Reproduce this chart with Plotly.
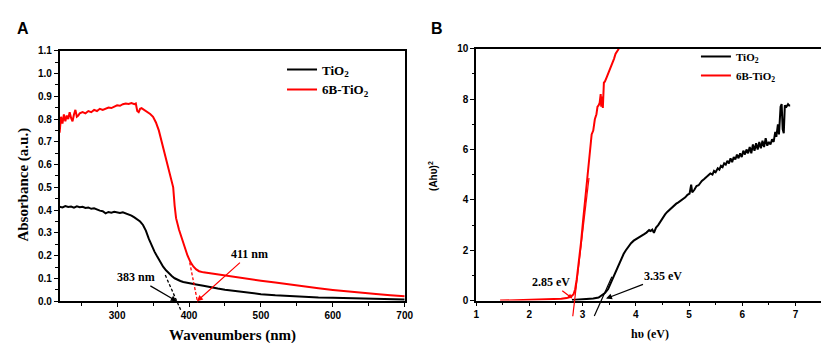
import plotly.graph_objects as go

# ---------------- Panel A data ----------------
wl_tio2 = [220, 224, 228, 232, 236, 240, 244, 248, 252, 256, 260, 264, 268, 272, 276, 280, 284, 288, 292, 296,
           300, 304, 308, 312, 316, 320, 324, 328, 332, 336, 340, 344, 348, 352, 356, 360, 364, 368, 372, 376,
           380, 384, 388, 392, 396, 400, 410, 420, 430, 440, 450, 460, 470, 480, 490, 500, 520, 540, 560, 580,
           600, 620, 640, 660, 680, 700]
abs_tio2 = [0.415, 0.412, 0.418, 0.414, 0.416, 0.411, 0.417, 0.413, 0.415, 0.410, 0.412, 0.406, 0.408, 0.402,
            0.398, 0.395, 0.386, 0.392, 0.389, 0.393, 0.390, 0.388, 0.391, 0.386, 0.383, 0.376, 0.368, 0.360,
            0.350, 0.335, 0.310, 0.275, 0.245, 0.218, 0.195, 0.172, 0.152, 0.136, 0.122, 0.111, 0.101, 0.094,
            0.089, 0.085, 0.082, 0.079, 0.074, 0.068, 0.061, 0.056, 0.051, 0.047, 0.043, 0.038, 0.034, 0.031,
            0.026, 0.022, 0.019, 0.017, 0.016, 0.014, 0.012, 0.011, 0.009, 0.008]

wl_6b = [220, 221, 222, 224, 226, 228, 230, 232, 234, 236, 238, 240, 242, 244, 246, 248, 252, 256, 260, 264,
         268, 272, 276, 280, 284, 288, 292, 296, 300, 304, 308, 312, 316, 320, 324, 326, 328, 330, 332, 334,
         338, 342, 346, 350, 354, 358, 362, 366, 370, 374, 378, 380, 382, 386, 390, 394, 398, 402, 406, 410,
         414, 420, 430, 440, 460, 480, 500, 520, 540, 560, 580, 600, 620, 640, 660, 680, 700]
abs_6b = [0.74, 0.79, 0.81, 0.78, 0.82, 0.79, 0.815, 0.80, 0.83, 0.805, 0.79, 0.82, 0.84, 0.81, 0.815, 0.825,
          0.83, 0.825, 0.835, 0.83, 0.84, 0.835, 0.845, 0.84, 0.845, 0.85, 0.848, 0.855, 0.86, 0.858, 0.865,
          0.868, 0.866, 0.87, 0.865, 0.868, 0.835, 0.83, 0.845, 0.848, 0.84, 0.833, 0.822, 0.81, 0.785, 0.75,
          0.70, 0.655, 0.61, 0.56, 0.50, 0.42, 0.365, 0.315, 0.275, 0.24, 0.20, 0.172, 0.153, 0.14, 0.132,
          0.127, 0.122, 0.118, 0.110, 0.100, 0.090, 0.082, 0.073, 0.064, 0.057, 0.050, 0.043, 0.037, 0.032,
          0.027, 0.022]

# ---------------- Panel B data ----------------
ev_6b = [1.45, 1.6, 1.8, 2.0, 2.2, 2.4, 2.5, 2.6, 2.7, 2.78, 2.83, 2.86, 2.89, 2.93, 2.97, 3.01, 3.05, 3.09,
         3.12, 3.15, 3.17, 3.20, 3.23, 3.26, 3.28, 3.30, 3.32, 3.34, 3.35, 3.37, 3.38, 3.40, 3.42, 3.45, 3.48,
         3.50, 3.53, 3.56, 3.59, 3.62, 3.65, 3.68]
ahv_6b = [0.0, 0.01, 0.01, 0.02, 0.03, 0.04, 0.05, 0.07, 0.10, 0.15, 0.25, 0.45, 0.85, 1.5, 2.3, 3.2, 4.0, 4.9,
          5.5, 5.95, 6.6, 6.75, 7.2, 7.4, 7.7, 7.75, 7.85, 8.2, 7.7, 8.1, 7.65, 8.65, 8.7, 8.85, 9.0, 9.1, 9.3,
          9.45, 9.6, 9.8, 9.9, 10.0]

ev_tio2 = [2.8, 2.9, 3.0, 3.1, 3.2, 3.3, 3.36, 3.42, 3.48, 3.53, 3.57, 3.62, 3.66, 3.72, 3.77, 3.81, 3.86, 3.91,
           3.96, 4.03, 4.09, 4.15, 4.20, 4.25, 4.28, 4.31, 4.34, 4.38, 4.42, 4.46, 4.50, 4.55, 4.59, 4.63, 4.67,
           4.71, 4.76, 4.80, 4.85, 4.89, 4.93, 4.97, 5.01, 5.04, 5.06, 5.10, 5.14, 5.18, 5.20, 5.24, 5.28, 5.32,
           5.36, 5.40, 5.44, 5.47, 5.50, 5.54, 5.57, 5.60, 5.63, 5.66, 5.69, 5.72, 5.75, 5.78, 5.81, 5.84, 5.87,
           5.90, 5.93, 5.96, 5.99, 6.02, 6.05, 6.08, 6.11, 6.14, 6.17, 6.20, 6.23, 6.26, 6.29, 6.32, 6.35, 6.38,
           6.41, 6.44, 6.47, 6.50, 6.53, 6.56, 6.59, 6.62, 6.64, 6.67, 6.69, 6.72, 6.74, 6.76, 6.78, 6.80, 6.83,
           6.86, 6.88, 6.90]
ahv_tio2 = [0.02, 0.03, 0.04, 0.06, 0.08, 0.12, 0.2, 0.3, 0.46, 0.7, 0.91, 1.15, 1.35, 1.67, 1.85, 1.99, 2.15,
            2.28, 2.38, 2.46, 2.55, 2.63, 2.70, 2.80, 2.76, 2.82, 2.69, 2.90, 3.00, 3.14, 3.28, 3.42, 3.52, 3.60,
            3.68, 3.78, 3.85, 3.90, 3.98, 4.03, 4.10, 4.20, 4.25, 4.60, 4.30, 4.40, 4.55, 4.58, 4.65, 4.75, 4.82,
            4.90, 4.95, 5.05, 5.00, 5.15, 5.10, 5.25, 5.20, 5.35, 5.30, 5.45, 5.40, 5.55, 5.45, 5.65, 5.50, 5.70,
            5.60, 5.80, 5.65, 5.85, 5.70, 5.95, 5.80, 6.00, 5.85, 6.10, 5.85, 6.20, 5.95, 6.25, 6.00, 6.30, 6.05,
            6.35, 6.10, 6.45, 6.15, 6.30, 6.20, 6.40, 6.30, 6.70, 6.50, 7.00, 6.60, 7.70, 7.80, 6.80, 6.65, 7.75,
            7.70, 7.80, 7.75, 7.75]

# Onset values (tangent intercepts)
onset_a_tio2 = 383
onset_a_6b = 411
onset_b_tio2 = 3.35
onset_b_6b = 2.85

# tangent segments (x, y endpoints)
tan_a_tio2 = ([367, 389], [0.115, -0.042])
tan_a_6b = ([401, 412], [0.17, -0.005])
tan_b_tio2 = ([3.22, 3.55], [-0.61, 0.95])
tan_b_6b = ([2.815, 3.12], [-0.62, 4.87])

# ---------------- layout geometry ----------------
W, H = 829, 343
XA_DOM = [49.3 / W, 399.5 / W]
YA_DOM = [1 - 297.7 / H, 1 - 38 / H]
XB_DOM = [472 / W, 823 / W]
YB_DOM = [1 - 297 / H, 1 - 36 / H]
XA_RANGE = [220, 700]
YA_RANGE = [0, 1.1]
XB_RANGE = [1, 7.5]
YB_RANGE = [0, 10]


def ypaper(v, rng, dom):
    return dom[0] + (v - rng[0]) / (rng[1] - rng[0]) * (dom[1] - dom[0])


RED = "#ff0000"
BLACK = "#000000"
SERIF = "Liberation Serif"
SANS = "Liberation Sans"

fig = go.Figure()
fig.add_trace(go.Scatter(x=wl_tio2, y=abs_tio2, mode="lines", name="TiO<sub>2</sub>",
                         line=dict(color=BLACK, width=2), xaxis="x", yaxis="y", legend="legend"))
fig.add_trace(go.Scatter(x=wl_6b, y=abs_6b, mode="lines", name="6B-TiO<sub>2</sub>",
                         line=dict(color=RED, width=2), xaxis="x", yaxis="y", legend="legend"))
fig.add_trace(go.Scatter(x=ev_tio2, y=ahv_tio2, mode="lines", name="TiO<sub>2</sub>",
                         line=dict(color=BLACK, width=2), xaxis="x2", yaxis="y2", legend="legend2"))
fig.add_trace(go.Scatter(x=ev_6b, y=ahv_6b, mode="lines", name="6B-TiO<sub>2</sub>",
                         line=dict(color=RED, width=2), xaxis="x2", yaxis="y2", legend="legend2"))

shapes = []
# panel A dashed tangents
for (xs, ys), col in [(tan_a_tio2, BLACK), (tan_a_6b, RED)]:
    shapes.append(dict(type="line", xref="x", yref="paper",
                       x0=xs[0], x1=xs[1],
                       y0=ypaper(ys[0], YA_RANGE, YA_DOM), y1=ypaper(ys[1], YA_RANGE, YA_DOM),
                       line=dict(color=col, width=1.3, dash="3px,2px")))
# panel B solid tangents
for (xs, ys), col in [(tan_b_tio2, BLACK), (tan_b_6b, RED)]:
    shapes.append(dict(type="line", xref="x2", yref="paper",
                       x0=xs[0], x1=xs[1],
                       y0=ypaper(ys[0], YB_RANGE, YB_DOM), y1=ypaper(ys[1], YB_RANGE, YB_DOM),
                       line=dict(color=col, width=1.2)))

ann_font = dict(family=SERIF, size=12, color=BLACK, weight="bold")


def paper_text(text, px, py, font, angle=0):
    return dict(text=text, x=px / W, y=1 - py / H, xref="paper", yref="paper", showarrow=False,
                xanchor="center", yanchor="middle", textangle=angle, font=font)


def arrow_label(text, tip, label, xr, yr, color, size=1.0):
    return dict(text=text, x=tip[0], y=tip[1], ax=label[0], ay=label[1], xref=xr, yref=yr,
                axref=xr, ayref=yr, showarrow=True, arrowhead=2, arrowsize=size, arrowwidth=1.2,
                arrowcolor=color, standoff=0, startstandoff=0, font=ann_font)


annotations = [
    paper_text("A", 12, 15, dict(family=SANS, size=16, color=BLACK, weight="bold")),
    paper_text("B", 432, 15, dict(family=SANS, size=16, color=BLACK, weight="bold")),
    paper_text("Absorbance (a.u.)", 13, 177, dict(family=SERIF, size=15, color=BLACK, weight="bold"), -90),
    paper_text("Wavenumbers (nm)", 225, 333, dict(family=SERIF, size=15, color=BLACK, weight="bold")),
    paper_text("(Ahυ)<sup>2</sup>", 428, 168, dict(family=SANS, size=10, color=BLACK, weight="bold"), -90),
    paper_text("hυ (eV)", 648, 332, dict(family=SERIF, size=12, color=BLACK, weight="bold")),
    arrow_label(f"{onset_a_tio2} nm", (onset_a_tio2, 0), (326, 0.105), "x", "y", BLACK),
    arrow_label(f"{onset_a_6b} nm", (onset_a_6b, 0), (484, 0.207), "x", "y", RED),
    arrow_label(f"{onset_b_6b} eV", (2.81, 0.08), (2.41, 0.73), "x2", "y2", RED, 0.8),
    arrow_label(f"{onset_b_tio2} eV", (3.44, 0.08), (4.52, 0.96), "x2", "y2", BLACK),
]

tickfont = dict(family=SANS, size=10, color=BLACK, weight="bold")
axis_common = dict(showline=True, linecolor=BLACK, linewidth=1.5, mirror=True, ticks="outside",
                   ticklen=4, tickwidth=1.2, tickcolor=BLACK, showgrid=False, zeroline=False,
                   tickfont=tickfont, fixedrange=True)

fig.update_layout(
    width=W, height=H,
    margin=dict(l=0, r=0, t=0, b=0),
    paper_bgcolor="white", plot_bgcolor="white",
    showlegend=True,
    xaxis=dict(domain=XA_DOM, range=XA_RANGE, anchor="y", tick0=0, dtick=100,
               minor=dict(dtick=50, tick0=0, ticks="outside", ticklen=2.5, tickcolor=BLACK, tickwidth=1),
               **axis_common),
    yaxis=dict(domain=YA_DOM, range=YA_RANGE, anchor="x", tick0=0, dtick=0.1, tickformat=".1f",
               minor=dict(dtick=0.05, tick0=0, ticks="outside", ticklen=2.5, tickcolor=BLACK, tickwidth=1),
               **axis_common),
    xaxis2=dict(domain=XB_DOM, range=XB_RANGE, anchor="y2", tick0=0, dtick=1,
                minor=dict(dtick=0.5, tick0=0, ticks="outside", ticklen=2.5, tickcolor=BLACK, tickwidth=1),
                **axis_common),
    yaxis2=dict(domain=YB_DOM, range=YB_RANGE, anchor="x2", tick0=0, dtick=2,
                minor=dict(dtick=1, tick0=0, ticks="outside", ticklen=2.5, tickcolor=BLACK, tickwidth=1),
                **axis_common),
    legend=dict(x=275 / W, y=1 - 42 / H, xanchor="left", yanchor="top", bgcolor="rgba(0,0,0,0)",
                font=dict(family=SERIF, size=13, color=BLACK, weight="bold"), tracegroupgap=0),
    legend2=dict(x=695 / W, y=1 - 29 / H, xanchor="left", yanchor="top", bgcolor="rgba(0,0,0,0)",
                 font=dict(family=SERIF, size=11, color=BLACK, weight="bold"), tracegroupgap=0),
    shapes=shapes,
    annotations=annotations,
)

fig.write_html("out.html")
